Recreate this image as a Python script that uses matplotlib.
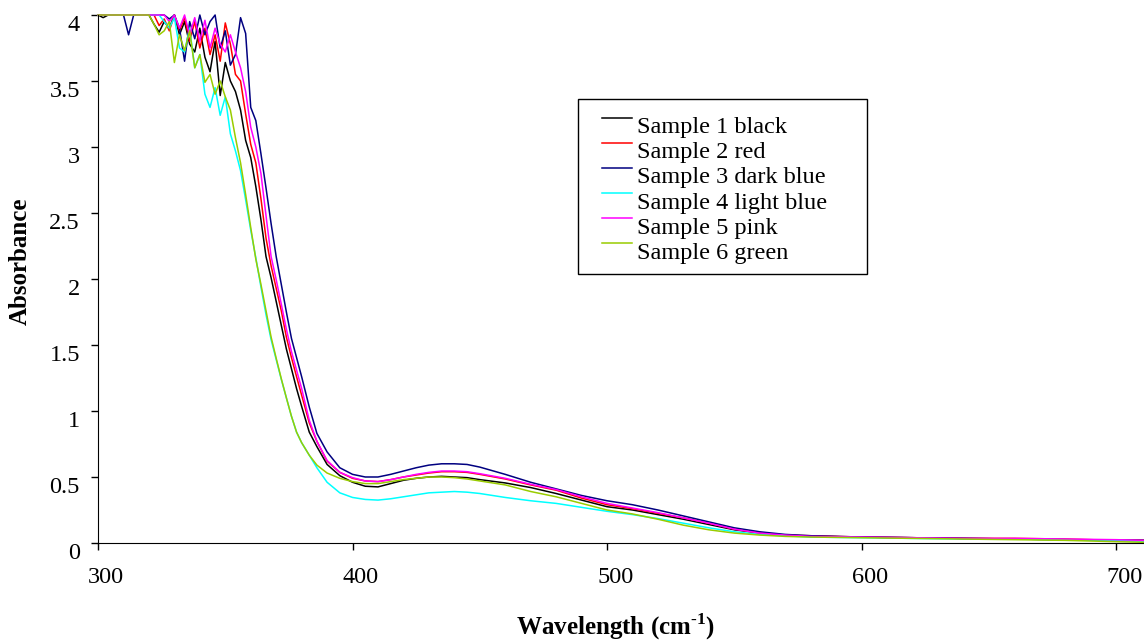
import matplotlib
matplotlib.use("Agg")
import matplotlib.pyplot as plt
from matplotlib.patches import Rectangle
from matplotlib.transforms import ScaledTranslation

# UV-vis absorbance spectra of six samples
wavelength = [300, 302, 304, 306, 308, 310, 312, 314, 316, 318, 320, 322, 324, 326, 328, 330,
              332, 334, 336, 338, 340, 342, 344, 346, 348, 350, 352, 354, 356, 358, 360, 362,
              364, 366, 368, 370, 372, 374, 376, 378, 380, 383, 386, 390, 395, 400, 405, 410,
              415, 420, 425, 430, 435, 440, 445, 450, 460, 470, 480, 490, 500, 510, 520, 530,
              540, 550, 560, 570, 580, 600, 620, 640, 660, 680, 700, 711]

sample1_black = [4.0, 3.98, 4.0, 4.0, 4.0, 4.0, 4.0, 4.0, 4.0, 4.0, 4.0, 3.93, 3.87, 3.95, 3.9, 4.0,
                 3.85, 3.95, 3.78, 3.72, 3.9, 3.68, 3.57, 3.8, 3.39, 3.64, 3.5, 3.42, 3.28, 3.05, 2.92, 2.7,
                 2.45, 2.17, 2.01, 1.83, 1.65, 1.47, 1.32, 1.17, 1.035, 0.84, 0.73, 0.595, 0.51, 0.46, 0.43, 0.425,
                 0.45, 0.475, 0.49, 0.50, 0.505, 0.50, 0.495, 0.48, 0.455, 0.42, 0.375, 0.325, 0.275, 0.25, 0.215, 0.18,
                 0.14, 0.10, 0.075, 0.06, 0.05, 0.045, 0.04, 0.035, 0.03, 0.025, 0.02, 0.02]

sample2_red = [4.0, 4.0, 4.0, 4.0, 4.0, 4.0, 4.0, 4.0, 4.0, 4.0, 4.0, 4.0, 3.92, 3.97, 3.88, 4.0,
               3.88, 3.98, 3.8, 3.95, 3.75, 3.9, 3.7, 3.85, 3.65, 3.94, 3.78, 3.55, 3.5, 3.25, 3.02, 2.88,
               2.61, 2.31, 2.10, 1.93, 1.76, 1.56, 1.405, 1.26, 1.12, 0.91, 0.77, 0.62, 0.535, 0.49, 0.47, 0.465,
               0.48, 0.50, 0.515, 0.53, 0.54, 0.54, 0.535, 0.52, 0.485, 0.44, 0.40, 0.34, 0.29, 0.26, 0.225, 0.19,
               0.15, 0.105, 0.075, 0.06, 0.055, 0.045, 0.04, 0.035, 0.035, 0.03, 0.02, 0.02]

sample3_darkblue = [4.0, 4.0, 4.0, 4.0, 4.0, 4.0, 3.85, 4.0, 4.0, 4.0, 4.0, 4.0, 4.0, 4.0, 3.97, 4.0,
                    3.9, 3.65, 3.95, 3.82, 4.0, 3.85, 3.95, 4.0, 3.75, 3.88, 3.62, 3.7, 3.98, 3.86, 3.3, 3.2,
                    2.95, 2.69, 2.42, 2.17, 1.96, 1.75, 1.55, 1.405, 1.26, 1.03, 0.83, 0.69, 0.57, 0.52, 0.50, 0.50,
                    0.52, 0.545, 0.57, 0.59, 0.60, 0.60, 0.595, 0.575, 0.52, 0.46, 0.41, 0.36, 0.32, 0.29, 0.25, 0.205,
                    0.16, 0.115, 0.085, 0.065, 0.055, 0.045, 0.04, 0.035, 0.03, 0.025, 0.02, 0.02]

sample4_lightblue = [4.0, 4.0, 4.0, 4.0, 4.0, 4.0, 4.0, 4.0, 4.0, 4.0, 4.0, 4.0, 4.0, 3.95, 3.9, 3.98,
                     3.75, 3.72, 3.9, 3.6, 3.7, 3.4, 3.3, 3.45, 3.24, 3.38, 3.1, 2.97, 2.82, 2.6, 2.37, 2.16,
                     1.94, 1.73, 1.54, 1.39, 1.24, 1.10, 0.96, 0.84, 0.76, 0.665, 0.57, 0.46, 0.38, 0.345, 0.33, 0.325,
                     0.335, 0.35, 0.365, 0.38, 0.385, 0.39, 0.385, 0.375, 0.345, 0.32, 0.30, 0.27, 0.24, 0.215, 0.185, 0.15,
                     0.115, 0.085, 0.065, 0.055, 0.045, 0.04, 0.035, 0.03, 0.03, 0.025, 0.02, 0.015]

sample5_pink = [4.0, 4.0, 4.0, 4.0, 4.0, 4.0, 4.0, 4.0, 4.0, 4.0, 4.0, 4.0, 4.0, 4.0, 3.95, 4.0,
                3.9, 4.0, 3.85, 3.98, 3.8, 3.96, 3.75, 3.9, 3.78, 3.72, 3.85, 3.72, 3.6, 3.42, 3.15, 3.0,
                2.80, 2.48, 2.17, 1.995, 1.81, 1.62, 1.45, 1.31, 1.17, 0.93, 0.77, 0.625, 0.535, 0.495, 0.47, 0.465,
                0.48, 0.50, 0.52, 0.535, 0.545, 0.545, 0.54, 0.525, 0.49, 0.445, 0.405, 0.35, 0.30, 0.265, 0.23, 0.19,
                0.15, 0.105, 0.075, 0.06, 0.05, 0.045, 0.04, 0.035, 0.035, 0.03, 0.025, 0.02]

sample6_green = [4.0, 4.0, 4.0, 4.0, 4.0, 4.0, 4.0, 4.0, 4.0, 4.0, 4.0, 3.93, 3.85, 3.88, 3.95, 3.64,
                 3.85, 3.73, 3.88, 3.6, 3.7, 3.49, 3.55, 3.4, 3.5, 3.38, 3.28, 3.07, 2.88, 2.64, 2.39, 2.15,
                 1.96, 1.76, 1.56, 1.40, 1.245, 1.10, 0.96, 0.84, 0.76, 0.665, 0.59, 0.53, 0.49, 0.465, 0.45, 0.45,
                 0.465, 0.48, 0.49, 0.50, 0.50, 0.495, 0.485, 0.47, 0.44, 0.39, 0.35, 0.30, 0.25, 0.22, 0.18, 0.135,
                 0.10, 0.075, 0.06, 0.05, 0.045, 0.04, 0.035, 0.03, 0.025, 0.02, 0.01, 0.005]

labels = ["Sample 1 black", "Sample 2 red", "Sample 3 dark blue",
          "Sample 4 light blue", "Sample 5 pink", "Sample 6 green"]
colors = ["#000000", "#ff0000", "#000080", "#00ffff", "#ff00ff", "#99cc00"]

x_ticks = [300, 400, 500, 600, 700]
y_ticks = [0, 0.5, 1, 1.5, 2, 2.5, 3, 3.5, 4]
y_tick_labels = ["0", "0.5", "1", "1.5", "2", "2.5", "3", "3.5", "4"]


def plot_spectra():
    plt.rcParams["font.family"] = "Liberation Serif"
    plt.rcParams["mathtext.fontset"] = "custom"
    plt.rcParams["mathtext.rm"] = "Liberation Serif:bold"
    plt.rcParams["mathtext.bf"] = "Liberation Serif:bold"

    fig = plt.figure(figsize=(11.44, 6.41), dpi=100)
    ax = fig.add_axes([0.0857, 0.1529, 0.9143, 0.8237])

    series = [sample1_black, sample2_red, sample3_darkblue,
              sample4_lightblue, sample5_pink, sample6_green]
    for values, label, color in zip(series, labels, colors):
        ax.plot(wavelength, values, color=color, linewidth=1.1, label=label, clip_on=False)

    ax.set_xlim(300, 711)
    ax.set_ylim(0, 4)
    ax.set_xticks(x_ticks)
    ax.set_yticks(y_ticks)
    ax.set_yticklabels(y_tick_labels)
    ax.spines["top"].set_visible(False)
    ax.spines["right"].set_visible(False)
    ax.tick_params(axis="both", direction="out", length=5, width=1, labelsize=17.5)
    ax.tick_params(axis="x", pad=12)
    ax.tick_params(axis="y", pad=8)

    # tick labels sit a little off their ticks, like in the original
    shift_x = ScaledTranslation(6 / 72, 0, fig.dpi_scale_trans)
    shift_y = ScaledTranslation(0, -6 / 72, fig.dpi_scale_trans)
    for lab in ax.get_xticklabels():
        lab.set_transform(lab.get_transform() + shift_x)
    for lab in ax.get_yticklabels():
        lab.set_transform(lab.get_transform() + shift_y)

    fig.text(20 / 1144, 1 - 261 / 641, "Absorbance", rotation=90, fontsize=18,
             fontweight="bold", ha="center", va="center")
    fig.text(616 / 1144, 1 - 635 / 641, r"Wavelength (cm$^{\text{-1}}$)", fontsize=18,
             fontweight="bold", ha="center", va="baseline")

    # legend box drawn on its own, entries placed inside it
    fig.patches.append(Rectangle((578 / 1144, 1 - 274 / 641), 289 / 1144, 175 / 641,
                                 transform=fig.transFigure, fill=False,
                                 edgecolor="black", linewidth=1.0))
    leg = ax.legend(loc="upper left", bbox_to_anchor=(602 / 1144, 1 - 116 / 641),
                    bbox_transform=fig.transFigure, fontsize=17.5,
                    handlelength=1.25, handletextpad=0.2, labelspacing=0.13,
                    borderpad=0, borderaxespad=0, frameon=False)
    lift = ScaledTranslation(0, 5 / 72, fig.dpi_scale_trans)
    for line in leg.get_lines():
        line.set_transform(line.get_transform() + lift)

    fig.savefig("out.png", dpi=100)


if __name__ == "__main__":
    plot_spectra()
